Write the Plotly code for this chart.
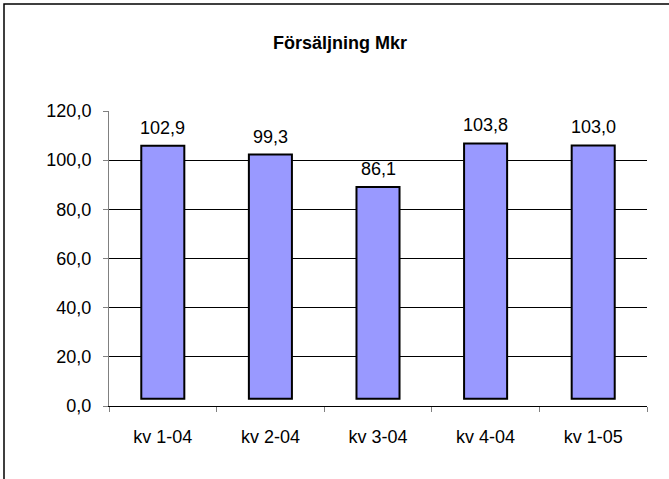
import plotly.graph_objects as go

categories = ["kv 1-04", "kv 2-04", "kv 3-04", "kv 4-04", "kv 1-05"]
values = [102.9, 99.3, 86.1, 103.8, 103.0]
labels = ["102,9", "99,3", "86,1", "103,8", "103,0"]
ytick_vals = [0, 20, 40, 60, 80, 100, 120]
ytick_text = ["0,0", "20,0", "40,0", "60,0", "80,0", "100,0", "120,0"]
title_text = "Försäljning Mkr"
bar_base = 3

W, H = 669, 479
L, R, T, B = 109, 22, 111, 73
pw, ph = W - L - R, H - T - B

FONT = "Liberation Sans, Arial, sans-serif"

fig = go.Figure()
fig.add_trace(go.Bar(
    x=categories, y=values, base=bar_base, width=0.4,
    marker=dict(color="#9999FF", line=dict(color="black", width=2)),
    hoverinfo="skip",
))

for c, v, t in zip(categories, values, labels):
    fig.add_annotation(x=c, y=v + bar_base, text=t, showarrow=False,
                       yanchor="bottom", yshift=6,
                       font=dict(family=FONT, size=18, color="black"))

def px_x(p):
    return (p - L) / pw

def px_y(p):
    return 1 - (p - T) / ph

# outer chart border
fig.add_shape(type="rect", xref="paper", yref="paper",
              x0=px_x(4), x1=px_x(W + 5), y0=px_y(H + 5), y1=px_y(4),
              line=dict(color="black", width=1.5), layer="above")

fig.update_layout(
    width=W, height=H,
    margin=dict(l=L, r=R, t=T, b=B),
    paper_bgcolor="white", plot_bgcolor="white",
    showlegend=False,
    title=dict(text="<b>" + title_text + "</b>", x=340 / W, xanchor="center",
               y=1 - 43 / H, yanchor="middle",
               font=dict(family=FONT, size=18, color="black")),
    font=dict(family=FONT, size=18, color="black"),
    bargap=0.6,
)
fig.update_xaxes(
    type="category", tickson="boundaries",
    showline=True, linecolor="black", linewidth=1,
    ticks="outside", ticklen=5, tickcolor="#808080",
    showgrid=False, ticklabelstandoff=14,
    tickfont=dict(family=FONT, size=18, color="black"),
)
fig.update_yaxes(
    range=[0, 120], tickvals=ytick_vals, ticktext=ytick_text,
    showline=True, linecolor="#808080", linewidth=1,
    ticks="outside", ticklen=5, tickcolor="#808080",
    showgrid=True, gridcolor="black", gridwidth=1,
    zeroline=False, ticklabelstandoff=8,
    tickfont=dict(family=FONT, size=18, color="black"),
)

fig.write_html("out.html", config={"displayModeBar": False},
               post_script="document.body.style.margin='0';document.body.style.overflow='hidden';")
